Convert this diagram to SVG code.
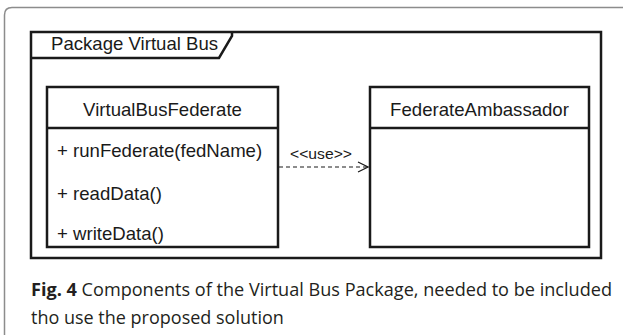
<svg xmlns="http://www.w3.org/2000/svg" width="623" height="335" viewBox="0 0 623 335">
  <style>
    .frame { fill: #ffffff; stroke: #1a1a1a; stroke-width: 2.5; }
    .uml { font-family: "Liberation Sans", Arial, sans-serif; font-size: 18.6px; fill: #1a1a1a; }
    .stereo { font-family: "Liberation Sans", Arial, sans-serif; font-size: 14.5px; fill: #1a1a1a; }
    .caption { font-family: "Open Sans", "Noto Sans", sans-serif; font-size: 18px; fill: #231f20; }
  </style>
  <defs>
    <marker id="openArrow" markerWidth="12" markerHeight="12" refX="11" refY="6" orient="auto" markerUnits="userSpaceOnUse">
      <path d="M1,1 L11,6 L1,11" fill="none" stroke="#1a1a1a" stroke-width="1.2"/>
    </marker>
  </defs>

  <!-- page border -->
  <path d="M4.5 335 V15 Q4.5 7.5 12 7.5 H623" fill="none" stroke="#8c8c8c" stroke-width="1.5"/>

  <!-- package frame -->
  <g id="package">
    <rect class="frame" x="31" y="32" width="570" height="226"/>
    <path d="M31 58 H219 L232 36 V32" fill="none" stroke="#1a1a1a" stroke-width="2.5"/>
    <text class="uml" x="51" y="50">Package Virtual Bus</text>
  </g>

  <g id="VirtualBusFederate">
    <rect class="frame" x="47" y="87" width="231" height="160"/>
    <line x1="47" y1="128" x2="278" y2="128" stroke="#1a1a1a" stroke-width="2.5"/>
    <text class="uml" x="162.5" y="116" text-anchor="middle">VirtualBusFederate</text>
    <text class="uml" x="57" y="157">+ runFederate(fedName)</text>
    <text class="uml" x="57" y="200">+ readData()</text>
    <text class="uml" x="57" y="240">+ writeData()</text>
  </g>

  <g id="FederateAmbassador">
    <rect class="frame" x="370" y="87" width="219" height="160"/>
    <line x1="370" y1="128" x2="589" y2="128" stroke="#1a1a1a" stroke-width="2.5"/>
    <text class="uml" x="479.5" y="116" text-anchor="middle">FederateAmbassador</text>
  </g>

  <g id="connectors">
    <line x1="279" y1="167" x2="368" y2="167" stroke="#1a1a1a" stroke-width="1.2" stroke-dasharray="4,3" marker-end="url(#openArrow)"/>
    <text class="stereo" x="290" y="159" textLength="62" lengthAdjust="spacingAndGlyphs">&lt;&lt;use&gt;&gt;</text>
  </g>

  <!-- caption -->
  <text class="caption" x="31" y="296" textLength="581" lengthAdjust="spacingAndGlyphs"><tspan font-weight="bold">Fig. 4</tspan> Components of the Virtual Bus Package, needed to be included</text>
  <text class="caption" x="31" y="324">tho use the proposed solution</text>
</svg>
